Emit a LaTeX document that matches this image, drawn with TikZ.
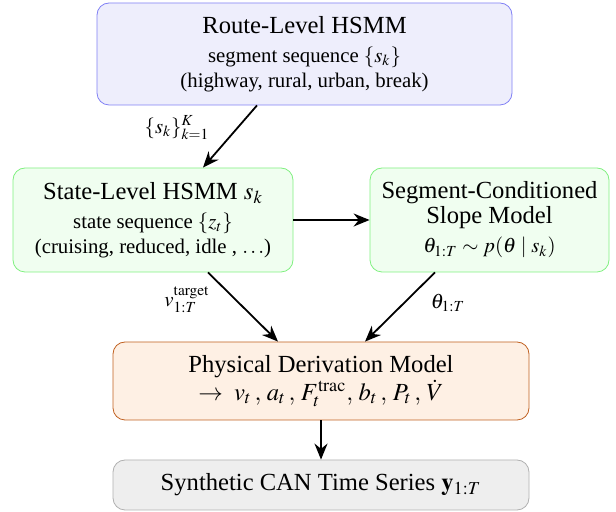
\documentclass[tikz,border=0pt]{standalone}
\usepackage{mathptmx}
\usepackage{fontspec}
\setmainfont{Liberation Serif}
\usetikzlibrary{arrows.meta,calc}

\definecolor{routefill}{RGB}{238,238,252}
\definecolor{routedraw}{RGB}{128,128,245}
\definecolor{statefill}{RGB}{240,254,240}
\definecolor{statedraw}{RGB}{128,240,128}
\definecolor{physfill}{RGB}{254,240,228}
\definecolor{physdraw}{RGB}{192,96,32}
\definecolor{outfill}{RGB}{238,238,238}
\definecolor{outdraw}{RGB}{176,176,176}

% body and heading sizes of the stage boxes
\newcommand{\bodysize}{\fontsize{10.4}{12.5}\selectfont}
\newcommand{\headsize}{\fontsize{12.3}{14.5}\selectfont}

\tikzset{
  stagebox/.style={draw, rounded corners=6pt, align=center, inner sep=2pt, font=\bodysize},
  routebox/.style={stagebox, fill=routefill, draw=routedraw},
  statebox/.style={stagebox, fill=statefill, draw=statedraw},
  physbox/.style={stagebox, fill=physfill, draw=physdraw},
  outbox/.style={stagebox, fill=outfill, draw=outdraw},
  flow/.style={line width=0.9pt, -{Stealth[length=8pt,width=6.5pt]}},
  edgelabel/.style={inner sep=1pt, font=\bodysize}
}

\begin{document}
\begin{tikzpicture}[x=0.5pt, y=-0.5pt]
  \useasboundingbox (0,0) rectangle (616,512);

  % pipeline stages
  \node[routebox, minimum width=207.5pt, minimum height=51pt] (route) at (304.5,54)
    {{\headsize Route-Level HSMM}\\[2pt]
     segment sequence $\{s_k\}$\\
     (highway, rural, urban, break)};

  \node[statebox, minimum width=140pt, minimum height=52pt] (state) at (153,220)
    {{\headsize State-Level HSMM $s_k$}\\[2pt]
     state sequence $\{z_t\}$\\
     (cruising, reduced, idle , $\ldots$)};

  \node[statebox, minimum width=119.5pt, minimum height=52pt] (slope) at (489.5,220)
    {{\headsize Segment-Conditioned}\\
     {\headsize Slope Model}\\[2pt]
     $\theta_{1:T} \sim p(\theta \mid s_k)$};

  \node[physbox, minimum width=208pt, minimum height=39pt] (phys) at (321,381)
    {{\headsize Physical Derivation Model}\\
     {\headsize $\rightarrow\; v_t\,,\, a_t\,,\, F_t^{\mathrm{trac}},\, b_t\,,\, P_t\,,\, \dot{V}$}};

  \node[outbox, minimum width=208pt, minimum height=25pt] (out) at (321,485)
    {\headsize Synthetic CAN Time Series $\mathbf{y}_{1:T}$};

  % connectors
  \draw[flow] ([xshift=-23.75pt]route.south) -- ([xshift=25pt]state.north);
  \draw[flow] (state.east) -- (slope.west);
  \draw[flow] ([xshift=27.5pt]state.south) -- ([xshift=-21.5pt]phys.north);
  \draw[flow] ([xshift=-27.25pt]slope.south) -- ([xshift=22pt]phys.north);
  \draw[flow] (phys.south) -- (out.north);

  % connector labels
  \node[edgelabel] (lblseg) at (177,128) {$\{s_k\}_{k=1}^{K}$};
  \node[edgelabel] (lblvel) at (187,300) {$v_{1:T}^{\mathrm{target}}$};
  \node[edgelabel] (lbltheta) at (448,303) {$\theta_{1:T}$};
\end{tikzpicture}
\end{document}
